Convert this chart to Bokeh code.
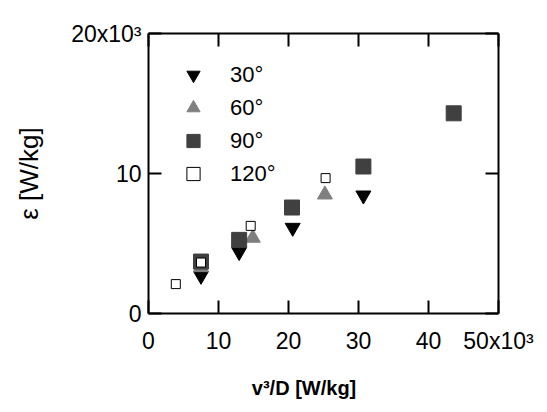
from bokeh.plotting import figure
from bokeh.models import LinearAxis, FixedTicker, Legend, LegendItem, Range1d
from bokeh.embed import file_html
from bokeh.resources import INLINE

# ---- data (W/kg) ----
x30 = [7500, 12950, 20600, 30700]
y30 = [2700, 4400, 6130, 8440]
x60 = [7500, 14900, 25200]
y60 = [3300, 5400, 8490]
x90 = [7500, 12950, 20500, 30700, 43600]
y90 = [3710, 5260, 7570, 10500, 14300]
x120 = [3900, 7500, 14600, 25300]
y120 = [2100, 3640, 6260, 9670]

series_labels = ["30°", "60°", "90°", "120°"]
x_ticks = [0, 10000, 20000, 30000, 40000, 50000]
x_tick_labels = ["0", "10", "20", "30", "40", "50x10³"]
y_ticks = [0, 10000, 20000]
y_tick_labels = ["0", "10", "20x10³"]
x_title = "v³/D [W/kg]"
y_title = "ε [W/kg]"

FONT = "Liberation Sans"
W, H = 547, 412

p = figure(width=W, height=H, output_backend="svg", toolbar_location=None,
           x_range=Range1d(0, 50000), y_range=Range1d(0, 20000),
           min_border_left=148, min_border_right=49, min_border_top=33, min_border_bottom=99,
           background_fill_color="white", border_fill_color="white")
p.xgrid.visible = False
p.ygrid.visible = False
p.outline_line_color = None


def style_axis(ax, ticks, labels, show_labels, standoff):
    ax.ticker = FixedTicker(ticks=ticks)
    ax.major_label_overrides = {t: l for t, l in zip(ticks, labels)}
    ax.axis_line_color = "black"
    ax.axis_line_width = 2
    ax.major_tick_line_color = "black"
    ax.major_tick_line_width = 2
    ax.major_tick_in = 13
    ax.major_tick_out = 0
    ax.minor_tick_line_color = None
    ax.major_label_text_font = FONT
    ax.major_label_text_font_size = "23px"
    ax.major_label_text_color = "black" if show_labels else None
    ax.major_label_standoff = standoff


style_axis(p.xaxis[0], x_ticks, x_tick_labels, True, 14)
style_axis(p.yaxis[0], y_ticks, y_tick_labels, True, 7)

# axis titles
xa = p.xaxis[0]
xa.axis_label = x_title + "\u00a0" * 7
xa.axis_label_text_font = FONT
xa.axis_label_text_font_size = "20px"
xa.axis_label_text_font_style = "bold"
xa.axis_label_text_color = "black"
xa.axis_label_standoff = 20

ya = p.yaxis[0]
ya.axis_label = y_title
ya.axis_label_text_font = FONT
ya.axis_label_text_font_size = "26px"
ya.axis_label_text_font_style = "normal"
ya.axis_label_text_color = "black"
ya.axis_label_standoff = 24

top_ax = LinearAxis()
style_axis(top_ax, x_ticks, x_tick_labels, False, 0)
top_ax.major_label_text_font_size = "0px"
p.add_layout(top_ax, "above")
right_ax = LinearAxis()
style_axis(right_ax, y_ticks, y_tick_labels, False, 0)
right_ax.major_label_text_font_size = "0px"
p.add_layout(right_ax, "right")

r30 = p.scatter(x30, y30, marker="inverted_triangle", size=15, fill_color="black", line_color="black")
r60 = p.scatter(x60, y60, marker="triangle", size=15, fill_color="#7f7f7f", line_color="#7f7f7f")
r90 = p.scatter(x90, y90, marker="square", size=15, fill_color="#404040", line_color="#404040")
r120 = p.scatter(x120, y120, marker="square", size=9, fill_color="white", line_color="black", line_width=1)

legend = Legend(items=[LegendItem(label=series_labels[i], renderers=[r])
                       for i, r in enumerate([r30, r60, r90, r120])],
                location=(25, 123), glyph_width=40, glyph_height=33, spacing=0,
                padding=0, margin=0, border_line_color=None, background_fill_alpha=0,
                label_text_font=FONT, label_text_font_size="22px", label_standoff=17,
                label_text_color="black")
p.add_layout(legend)

open("out.html", "w").write(file_html(p, INLINE))
